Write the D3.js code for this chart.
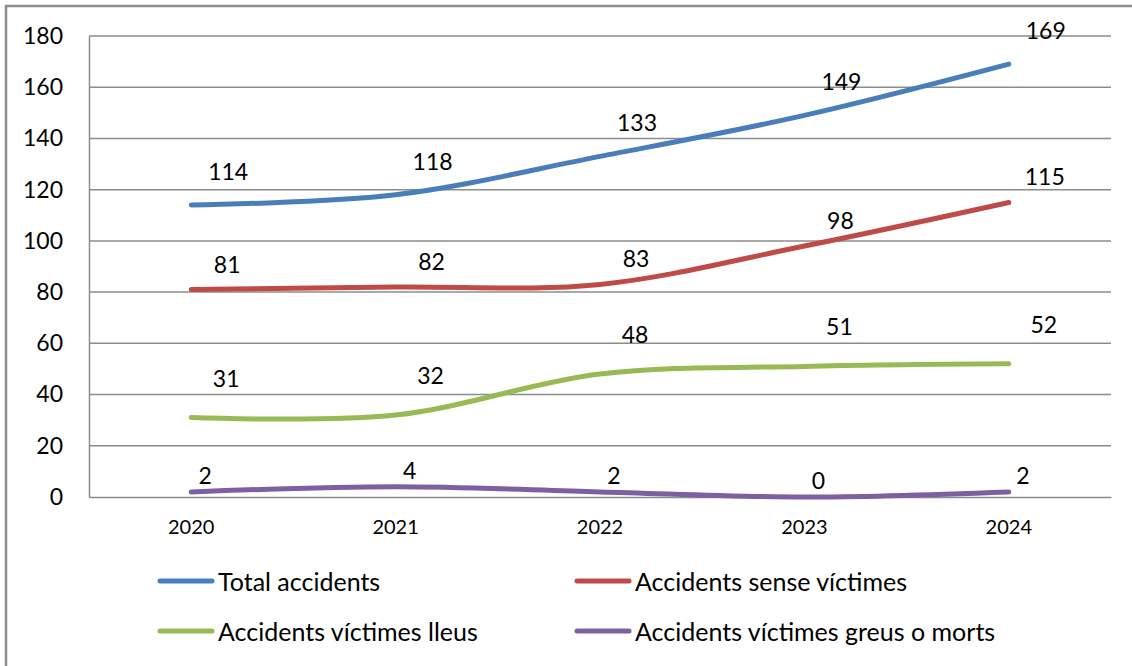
<!DOCTYPE html>
<html>
<head>
<meta charset="utf-8">
<script src="https://cdn.jsdelivr.net/npm/d3@7"></script>
<style>
  html, body { margin: 0; padding: 0; background: #fff; }
  svg { display: block; font-family: Lato, "Open Sans", sans-serif; }
</style>
</head>
<body>
<svg id="chart" width="1132" height="666"></svg>
<script>
// ---- data ----
const years = ["2020", "2021", "2022", "2023", "2024"];
const seriesNames = ["Total accidents", "Accidents sense víctimes", "Accidents víctimes lleus", "Accidents víctimes greus o morts"];
const totalAccidents = [114, 118, 133, 149, 169];
const senseVictimes = [81, 82, 83, 98, 115];
const victimesLleus = [31, 32, 48, 51, 52];
const victimesGreus = [2, 4, 2, 0, 2];
const yTicks = [0, 20, 40, 60, 80, 100, 120, 140, 160, 180];
const seriesColors = ["#4A7EBB", "#BE4B48", "#98B954", "#7D60A0"];

const seriesValues = [totalAccidents, senseVictimes, victimesLleus, victimesGreus];

// ---- layout / style ----
const svg = d3.select("#chart");
const margin = { left: 89, right: 1111, top: 36, bottom: 497 };
// per-series data-label placement (style)
const labelOffset = [[37, -34], [36, -26], [35, -40], [14, -17]];

const x = d3.scaleBand().domain(years).range([margin.left, margin.right]).padding(0);
const y = d3.scaleLinear().domain([0, 180]).range([margin.bottom, margin.top]);
const cx = d => x(d) + x.bandwidth() / 2;

// outer border
svg.append("path")
  .attr("d", "M6,680 L6,6 L1140,6")
  .attr("fill", "none").attr("stroke", "#8c8c8c").attr("stroke-width", 2.5);

// gridlines
svg.append("g")
  .selectAll("line").data(yTicks.filter(t => t > 0)).join("line")
  .attr("x1", margin.left).attr("x2", margin.right)
  .attr("y1", d => y(d)).attr("y2", d => y(d))
  .attr("stroke", "#8c8c8c").attr("stroke-width", 1.5);

// y axis
const yAxis = d3.axisLeft(y).tickValues(yTicks).tickSize(0).tickPadding(26);
const gy = svg.append("g").attr("transform", `translate(${margin.left},0)`).call(yAxis);
gy.select(".domain").attr("stroke", "#8c8c8c").attr("stroke-width", 1.5);
gy.selectAll("text").attr("font-size", 23).attr("fill", "#000").attr("font-family", "Lato");

// x axis
const xAxis = d3.axisBottom(x).tickSize(0).tickPadding(23);
const gx = svg.append("g").attr("transform", `translate(0,${margin.bottom})`).call(xAxis);
gx.select(".domain").attr("stroke", "#8c8c8c").attr("stroke-width", 1.5);
gx.selectAll("text").attr("font-size", 20).attr("fill", "#000").attr("font-family", "Lato");

// lines
const line = d3.line()
  .x((d, i) => cx(years[i]))
  .y(d => y(d))
  .curve(d3.curveCardinal.tension(0));

seriesValues.forEach((vals, s) => {
  svg.append("path")
    .datum(vals)
    .attr("d", line)
    .attr("fill", "none")
    .attr("stroke", seriesColors[s])
    .attr("stroke-width", 5)
    .attr("stroke-linecap", "round")
    .attr("stroke-linejoin", "round");
});

// data labels
seriesValues.forEach((vals, s) => {
  svg.append("g").selectAll("text").data(vals).join("text")
    .attr("x", (d, i) => cx(years[i]) + labelOffset[s][0])
    .attr("y", d => y(d) + labelOffset[s][1])
    .attr("text-anchor", "middle")
    .attr("dominant-baseline", "central")
    .attr("font-size", 23)
    .attr("fill", "#000")
    .text(d => d);
});

// legend
const legendPos = [[160, 581], [577, 581], [160, 631], [577, 631]];
const lg = svg.append("g");
seriesNames.forEach((name, s) => {
  const [lx, ly] = legendPos[s];
  lg.append("line")
    .attr("x1", lx).attr("x2", lx + 52)
    .attr("y1", ly).attr("y2", ly)
    .attr("stroke", seriesColors[s]).attr("stroke-width", 5).attr("stroke-linecap", "round");
  lg.append("text")
    .attr("x", lx + 58).attr("y", ly)
    .attr("dominant-baseline", "central")
    .attr("font-size", 25)
    .attr("fill", "#000")
    .text(name);
});
</script>
</body>
</html>
